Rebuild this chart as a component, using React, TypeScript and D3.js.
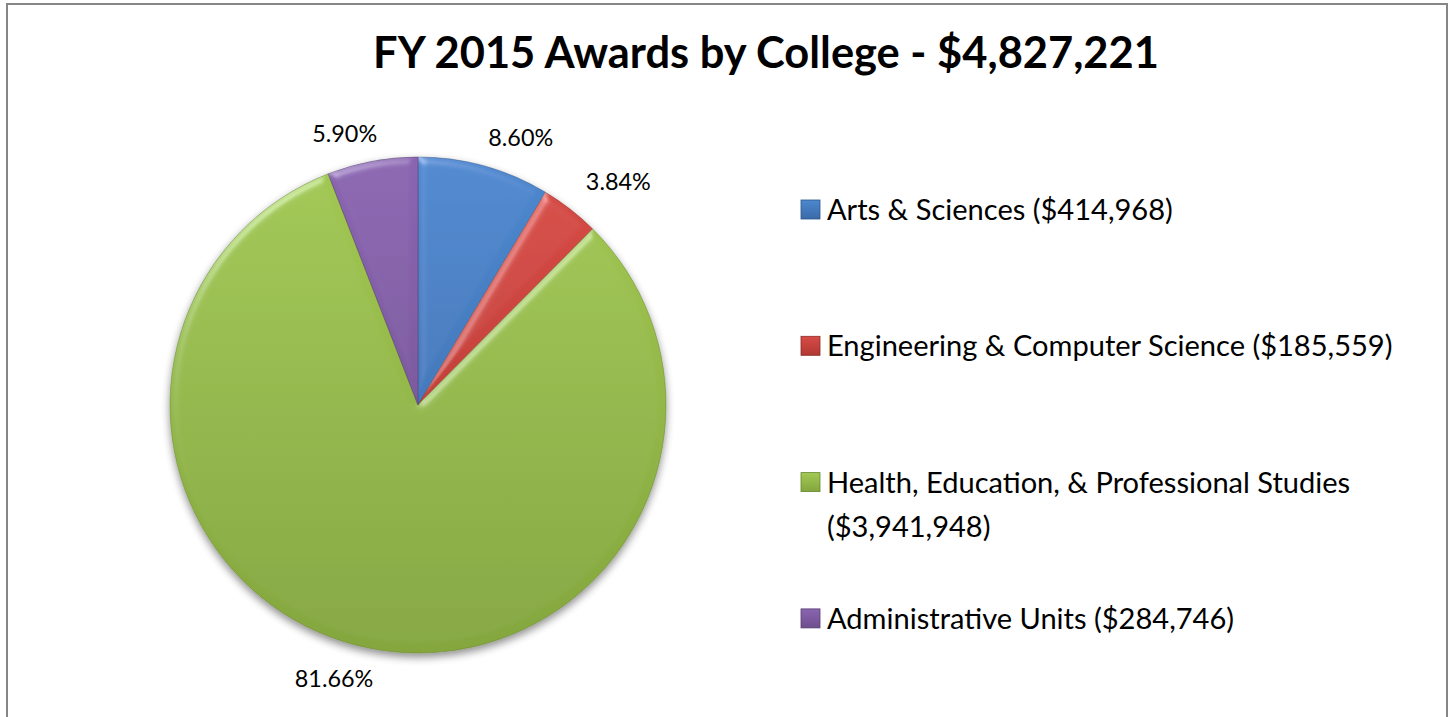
import React, { useEffect, useRef } from "react";
import * as d3 from "d3";

// ---- data ----
const fiscalYear = "FY 2015";
const colleges = [
  "Arts & Sciences",
  "Engineering & Computer Science",
  "Health, Education, & Professional Studies",
  "Administrative Units",
];
const awards = [414968, 185559, 3941948, 284746];

// ---- styles ----
const lightColors = ["#4d88cf", "#d84b45", "#a2c853", "#8b65b1"];
const darkColors = ["#3a6aa8", "#b13834", "#84a63e", "#6e4e8d"];
const edgeColors = ["#2c5589", "#8a2c28", "#66862e", "#573d70"];

const W = 1450;
const H = 717;
const cx = 418;
const cy = 405;
const R = 248;
const FONT = "Lato, 'Open Sans', sans-serif";
const labelRadius = R + 36;
const labelNudge: [number, number][] = [
  [27, 6],
  [26, 1],
  [-26, -5],
  [-21, 8],
];

function fitSize(
  sel: d3.Selection<SVGTextElement, unknown, null, undefined>,
  target: number
) {
  sel.attr("font-size", 100);
  const w = (sel.node() as SVGTextElement).getComputedTextLength();
  return (100 * target) / w;
}

export default function App() {
  const ref = useRef<SVGSVGElement>(null);

  useEffect(() => {
    const svg = d3.select(ref.current as SVGSVGElement);
    svg.selectAll("*").remove();
    const total = d3.sum(awards);
    const money = d3.format("$,");
    const pct = d3.format(".2%");

    const defs = svg.append("defs");
    lightColors.forEach((c, i) => {
      const g = defs
        .append("linearGradient")
        .attr("id", `grad${i}`)
        .attr("gradientUnits", "userSpaceOnUse")
        .attr("x1", 0)
        .attr("x2", 0)
        .attr("y1", -R)
        .attr("y2", R);
      g.append("stop").attr("offset", "0%").attr("stop-color", c);
      g.append("stop").attr("offset", "100%").attr("stop-color", darkColors[i]);
      const m = defs
        .append("linearGradient")
        .attr("id", `mgrad${i}`)
        .attr("x1", 0)
        .attr("x2", 0)
        .attr("y1", 0)
        .attr("y2", 1);
      m.append("stop").attr("offset", "0%").attr("stop-color", c);
      m.append("stop").attr("offset", "100%").attr("stop-color", darkColors[i]);
    });

    const shadow = defs
      .append("filter")
      .attr("id", "shadow")
      .attr("x", "-10%")
      .attr("y", "-10%")
      .attr("width", "120%")
      .attr("height", "125%");
    shadow.append("feGaussianBlur").attr("in", "SourceAlpha").attr("stdDeviation", 4);
    shadow.append("feOffset").attr("dy", 4).attr("result", "ob");
    shadow
      .append("feComponentTransfer")
      .attr("result", "sh")
      .append("feFuncA")
      .attr("type", "linear")
      .attr("slope", 0.45);
    const mg = shadow.append("feMerge");
    mg.append("feMergeNode").attr("in", "sh");
    mg.append("feMergeNode").attr("in", "SourceGraphic");

    const bevel = defs
      .append("filter")
      .attr("id", "bevel")
      .attr("x", "-5%")
      .attr("y", "-5%")
      .attr("width", "110%")
      .attr("height", "110%");
    bevel
      .append("feGaussianBlur")
      .attr("in", "SourceAlpha")
      .attr("stdDeviation", 4)
      .attr("result", "blur");
    bevel
      .append("feSpecularLighting")
      .attr("in", "blur")
      .attr("surfaceScale", 4)
      .attr("specularConstant", 0.7)
      .attr("specularExponent", 25)
      .attr("lighting-color", "#ffffff")
      .attr("result", "spec")
      .append("feDistantLight")
      .attr("azimuth", 235)
      .attr("elevation", 35);
    bevel
      .append("feComposite")
      .attr("in", "spec")
      .attr("in2", "SourceAlpha")
      .attr("operator", "in")
      .attr("result", "specIn");
    bevel
      .append("feComposite")
      .attr("in", "SourceGraphic")
      .attr("in2", "specIn")
      .attr("operator", "arithmetic")
      .attr("k1", 0)
      .attr("k2", 1)
      .attr("k3", 0.35)
      .attr("k4", 0);

    // chart border
    svg
      .append("rect")
      .attr("x", 7)
      .attr("y", 4)
      .attr("width", 1440)
      .attr("height", 760)
      .attr("fill", "#ffffff")
      .attr("stroke", "#868686")
      .attr("stroke-width", 2);

    // title
    const title = svg
      .append("text")
      .attr("x", 766)
      .attr("y", 68)
      .attr("text-anchor", "middle")
      .attr("font-family", FONT)
      .attr("font-weight", "bold")
      .attr("fill", "#000")
      .text(`${fiscalYear} Awards by College - ${money(total)}`);
    title.attr("font-size", fitSize(title, 786));

    // pie
    const pie = d3.pie<number>().sort(null).value((d) => d);
    const arcs = pie(awards);
    const arc = d3.arc<d3.PieArcDatum<number>>().innerRadius(0).outerRadius(R);
    const gPie = svg
      .append("g")
      .attr("transform", `translate(${cx},${cy})`)
      .attr("filter", "url(#shadow)");
    gPie
      .selectAll("path")
      .data(arcs)
      .join("path")
      .attr("d", arc)
      .attr("fill", (_, i) => `url(#grad${i})`)
      .attr("stroke", (_, i) => edgeColors[i])
      .attr("stroke-opacity", 0.5)
      .attr("stroke-width", 1)
      .attr("filter", "url(#bevel)");

    // data labels
    const labels = svg
      .append("g")
      .selectAll("text")
      .data(arcs)
      .join("text")
      .attr("font-family", FONT)
      .attr("fill", "#000")
      .attr("text-anchor", "middle")
      .text((d) => pct(d.value / total));
    const probe = svg
      .append("text")
      .attr("font-family", FONT)
      .text(pct(awards[2] / total));
    const labelSize = fitSize(probe, 78.5);
    probe.remove();
    labels
      .attr("font-size", labelSize)
      .attr("x", (d, i) => {
        const a = (d.startAngle + d.endAngle) / 2;
        return cx + labelRadius * Math.sin(a) + labelNudge[i][0];
      })
      .attr("y", (d, i) => {
        const a = (d.startAngle + d.endAngle) / 2;
        return cy - labelRadius * Math.cos(a) + labelNudge[i][1] + 8.5;
      });

    // legend
    const legendX = 827;
    const legendY0 = 220;
    const legendStep = 136.3;
    const lineH = 44;
    const maxW = 600;
    const lp = svg
      .append("text")
      .attr("font-family", FONT)
      .text(`${colleges[0]} (${money(awards[0])})`);
    const legendSize = fitSize(lp, 346);
    lp.attr("font-size", legendSize);
    const measure = (s: string) => {
      lp.text(s);
      return (lp.node() as SVGTextElement).getComputedTextLength();
    };
    const wrapped = colleges.map((c, i) => {
      const words = `${c} (${money(awards[i])})`.split(" ");
      const lines: string[] = [];
      let cur = "";
      words.forEach((w) => {
        const t = cur ? `${cur} ${w}` : w;
        if (measure(t) > maxW && cur) {
          lines.push(cur);
          cur = w;
        } else cur = t;
      });
      lines.push(cur);
      return lines;
    });
    lp.remove();

    const lg = svg.append("g");
    colleges.forEach((_, i) => {
      const by = legendY0 + i * legendStep;
      lg.append("rect")
        .attr("x", 801)
        .attr("y", by - 20)
        .attr("width", 19)
        .attr("height", 19)
        .attr("fill", `url(#mgrad${i})`)
        .attr("stroke", edgeColors[i])
        .attr("stroke-width", 0.8);
      const t = lg
        .append("text")
        .attr("font-family", FONT)
        .attr("font-size", legendSize)
        .attr("fill", "#000");
      wrapped[i].forEach((line, k) => {
        t.append("tspan")
          .attr("x", legendX)
          .attr("y", by + k * lineH)
          .text(line);
      });
    });
  }, []);

  return (
    <div
      style={{
        position: "absolute",
        left: 0,
        top: 0,
        width: W,
        height: H,
        background: "#ffffff",
        overflow: "hidden",
      }}
    >
      <svg ref={ref} width={W} height={H} style={{ display: "block" }} />
    </div>
  );
}
